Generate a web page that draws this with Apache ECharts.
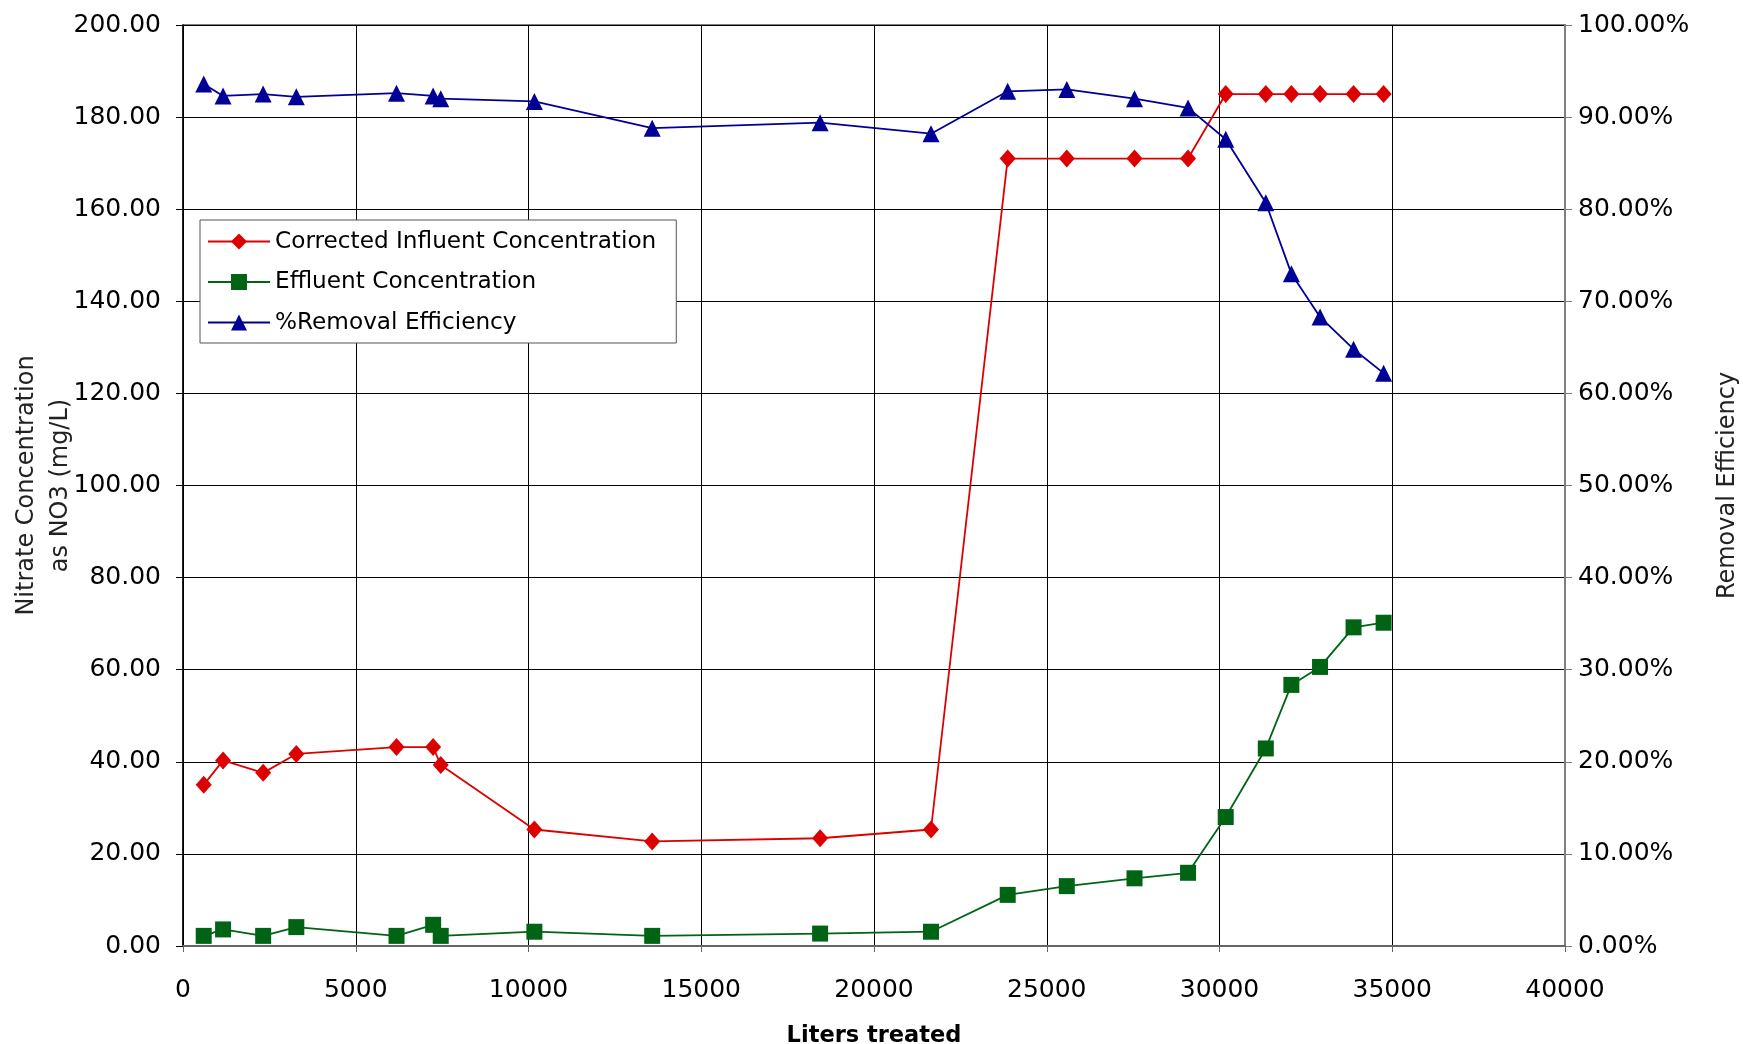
<!DOCTYPE HTML>
<html>
	<head>
		<meta http-equiv="Content-type" content="text/html; charset=UTF-8" />
		<script type="text/javascript" src="https://cdn.jsdelivr.net/npm/echarts@6/dist/echarts.min.js"></script>
		<style>
			html, body { margin: 0; padding: 0; background: #fff; }
		</style>
		<script type="text/javascript">
			// values
			var litersTreated = [600, 1160, 2320, 3280, 6180, 7240, 7460, 10170, 13580, 18440, 21650,
				23870, 25580, 27540, 29090, 30180, 31340, 32080, 32910, 33880, 34750];
			var influent = [35.0, 40.3, 37.6, 41.7, 43.2, 43.2, 39.3, 25.3, 22.7, 23.4, 25.3,
				171.0, 171.0, 171.0, 171.0, 185.0, 185.0, 185.0, 185.0, 185.0, 185.0];
			var effluent = [2.2, 3.6, 2.2, 4.1, 2.2, 4.6, 2.2, 3.1, 2.2, 2.7, 3.1,
				11.1, 13.0, 14.7, 15.9, 28.0, 42.9, 56.7, 60.6, 69.2, 70.2];
			var removal = [93.6, 92.3, 92.5, 92.2, 92.6, 92.3, 92.0, 91.7, 88.8, 89.4, 88.2,
				92.8, 93.0, 92.0, 91.0, 87.6, 80.7, 73.0, 68.3, 64.8, 62.2];
			var seriesNames = ['Corrected Influent Concentration', 'Effluent Concentration', '%Removal Efficiency'];

			function pairs(ys) {
				return litersTreated.map(function (x, i) { return [x, ys[i]]; });
			}

			var font = 'DejaVu Sans';
			var option = {
				animation: false,
				backgroundColor: '#fff',
				grid: {
					left: 183, right: 178, top: 25, bottom: 98,
					outerBoundsMode: 'none',
					show: true, borderColor: '#808080', borderWidth: 2
				},
				legend: {
					orient: 'vertical',
					left: 200, top: 220,
					backgroundColor: '#fff',
					borderColor: '#555', borderWidth: 1,
					padding: [10, 20, 9, 7],
					itemGap: 17.5, itemWidth: 62, itemHeight: 20,
					textStyle: { fontFamily: font, fontSize: 23.2, color: '#000' },
					data: seriesNames
				},
				xAxis: {
					type: 'value', min: 0, max: 40000, interval: 5000,
					name: 'Liters treated', nameLocation: 'middle', nameGap: 79,
					nameTextStyle: { fontFamily: font, fontSize: 22.5, fontWeight: 'bold', color: '#000' },
					axisLine: { lineStyle: { color: '#666', width: 2 } },
					axisTick: { show: true, length: 6, lineStyle: { color: '#666' } },
					axisLabel: {
						fontFamily: font, fontSize: 25, color: '#000', margin: 32,
						formatter: function (v) { return String(v); }
					},
					splitLine: { show: true, lineStyle: { color: '#000', width: 1 } }
				},
				yAxis: [{
					type: 'value', min: 0, max: 200, interval: 20,
					name: 'Nitrate Concentration\nas NO3 (mg/L)', nameLocation: 'middle', nameGap: 105,
					nameMoveOverlap: false,
					nameTextStyle: { fontFamily: font, fontSize: 24, color: '#222', lineHeight: 34 },
					axisLine: { show: true, lineStyle: { color: '#000', width: 1.5 } },
					axisTick: { show: true, length: 7, lineStyle: { color: '#000' } },
					axisLabel: {
						fontFamily: font, fontSize: 25, color: '#000', margin: 22,
						formatter: function (v) { return v.toFixed(2); }
					},
					splitLine: { show: true, lineStyle: { color: '#000', width: 1 } }
				}, {
					type: 'value', min: 0, max: 100, interval: 10, position: 'right',
					name: 'Removal Efficiency', nameLocation: 'middle', nameGap: 151,
					nameMoveOverlap: false,
					nameTextStyle: { fontFamily: font, fontSize: 24, color: '#222' },
					axisLine: { show: true, lineStyle: { color: '#808080', width: 2 } },
					axisTick: { show: true, length: 7, lineStyle: { color: '#808080' } },
					axisLabel: {
						fontFamily: font, fontSize: 25, color: '#000', margin: 13,
						formatter: function (v) { return v.toFixed(2) + '%'; }
					},
					splitLine: { show: false }
				}],
				series: [{
					name: seriesNames[0], type: 'line', yAxisIndex: 0,
					data: pairs(influent),
					symbol: 'diamond', symbolSize: [16, 18],
					itemStyle: { color: '#dd0000' },
					lineStyle: { color: '#dd0000', width: 1.8 }
				}, {
					name: seriesNames[1], type: 'line', yAxisIndex: 0,
					data: pairs(effluent),
					symbol: 'rect', symbolSize: 16,
					itemStyle: { color: '#006414' },
					lineStyle: { color: '#006414', width: 1.8 }
				}, {
					name: seriesNames[2], type: 'line', yAxisIndex: 1,
					data: pairs(removal),
					symbol: 'triangle', symbolSize: 17,
					itemStyle: { color: '#000096' },
					lineStyle: { color: '#000096', width: 1.8 }
				}]
			};
			window.onload = function () {
				var myChart = echarts.init(document.getElementById("div_1"));
				myChart.setOption(option);
			}
		</script>
	</head>
	<body>
		<div id="div_1" style="width: 1743px;height:1044px;"></div>
	</body>
</html>
